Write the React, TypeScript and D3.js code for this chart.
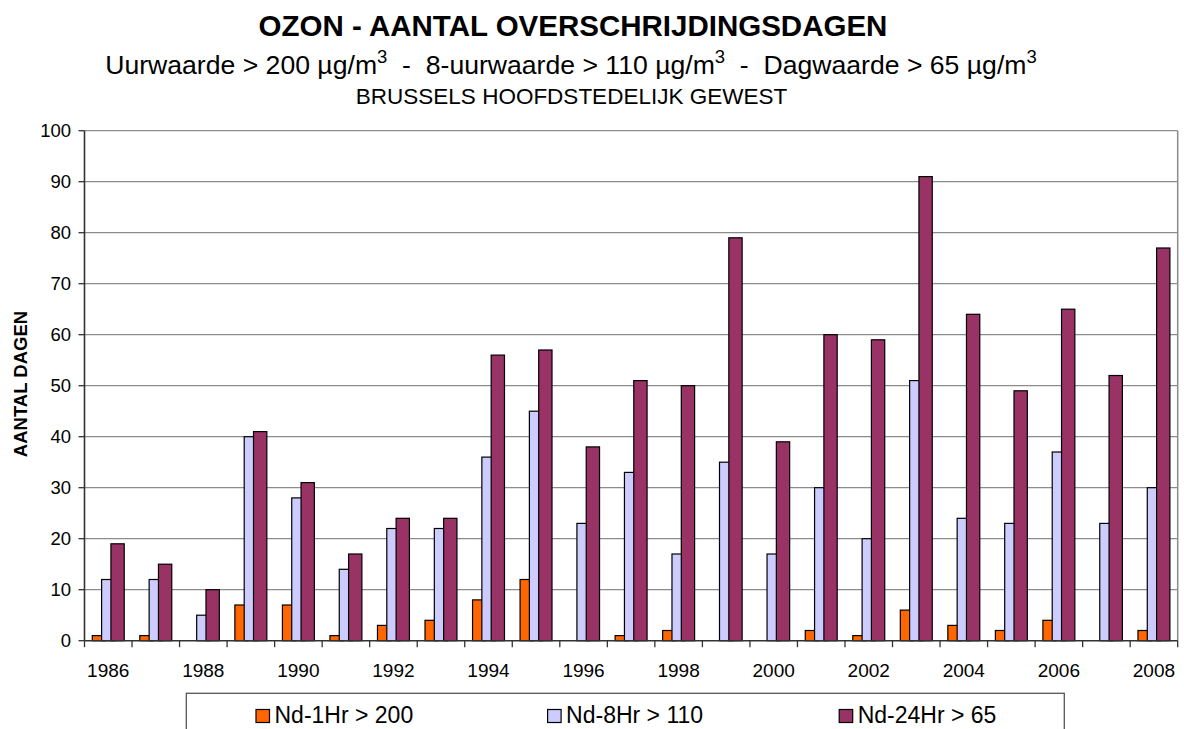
import React from "react";
import * as d3 from "d3";

const years = [1986,1987,1988,1989,1990,1991,1992,1993,1994,1995,1996,1997,1998,1999,2000,2001,2002,2003,2004,2005,2006,2007,2008];
const nd1Hr = [1,1,0,7,7,1,3,4,8,12,0,1,2,0,0,2,1,6,3,2,4,0,2];
const nd8Hr = [12,12,5,40,28,14,22,22,36,45,23,33,17,35,17,30,20,51,24,23,37,23,30];
const nd24Hr = [19,15,10,41,31,17,24,24,56,57,38,51,50,79,39,60,59,91,64,49,65,52,77];
const yTicks = [0,10,20,30,40,50,60,70,80,90,100];
const seriesNames = ["Nd-1Hr > 200", "Nd-8Hr > 110", "Nd-24Hr > 65"];
const seriesColors = ["#FF6600", "#CCCCFF", "#993366"];

const W = 1184, H = 729;
const FONT = "'Liberation Sans', Arial, Helvetica, sans-serif";
const left = 84.5, right = 1177.7, top = 130.7, bottom = 640.7;

export default function App() {
  const x = d3.scaleBand<number>().domain(years).range([left, right]).paddingInner(0).paddingOuter(0);
  const y = d3.scaleLinear().domain([0, 100]).range([bottom, top]);
  const bw = x.bandwidth();
  const barW = bw * 0.28;
  const step = bw * 0.196;
  const groupW = 2 * step + barW;
  const off = (bw - groupW) / 2;
  const series = [nd1Hr, nd8Hr, nd24Hr];

  return (
    <svg width={W} height={H} style={{ position: "absolute", left: 0, top: 0, background: "#fff" }} fontFamily={FONT}>
      <rect x={0} y={0} width={W} height={H} fill="#fff" />
      {/* titles */}
      <text x={573} y={36} textAnchor="middle" fontSize={29.5} fontWeight="bold" fill="#000">OZON - AANTAL OVERSCHRIJDINGSDAGEN</text>
      <text x={571} y={74} textAnchor="middle" fontSize={26.6} fill="#000">
        <tspan>Uurwaarde &gt; 200 µg/m</tspan>
        <tspan fontSize={18.5} dy={-11}>3</tspan>
        <tspan dy={11}>{"\u00A0 - \u00A08-uurwaarde > 110 µg/m"}</tspan>
        <tspan fontSize={18.5} dy={-11}>3</tspan>
        <tspan dy={11}>{"\u00A0 - \u00A0Dagwaarde > 65 µg/m"}</tspan>
        <tspan fontSize={18.5} dy={-11}>3</tspan>
      </text>
      <text x={571.5} y={104} textAnchor="middle" fontSize={22.5} fill="#000">BRUSSELS HOOFDSTEDELIJK GEWEST</text>

      {/* gridlines */}
      {yTicks.filter(t => t > 0).map(t => (
        <line key={"g" + t} x1={left} x2={right} y1={y(t)} y2={y(t)} stroke="#8c8c8c" strokeWidth={1.3} />
      ))}
      <line x1={right} x2={right} y1={top} y2={bottom} stroke="#8c8c8c" strokeWidth={1.5} />

      {/* bars */}
      {series.map((vals, si) => (
        <g key={"s" + si}>
          {vals.map((v, i) => v > 0 ? (
            <rect key={i}
              x={(x(years[i]) as number) + off + si * step}
              y={y(v)}
              width={barW}
              height={y(0) - y(v)}
              fill={seriesColors[si]}
              stroke="#000"
              strokeWidth={1.2}
            />
          ) : null)}
        </g>
      ))}

      {/* axes */}
      <line x1={left} x2={left} y1={top} y2={bottom} stroke="#333" strokeWidth={1.6} />
      <line x1={left} x2={right} y1={bottom} y2={bottom} stroke="#333" strokeWidth={1.6} />
      {yTicks.map(t => (
        <g key={"yt" + t}>
          <line x1={left - 6} x2={left} y1={y(t)} y2={y(t)} stroke="#333" strokeWidth={1.3} />
          <text x={71} y={y(t) + 6.6} textAnchor="end" fontSize={18.5} fill="#000">{t}</text>
        </g>
      ))}
      {years.map(yr => (
        <line key={"xt" + yr} x1={x(yr) as number} x2={x(yr) as number} y1={bottom} y2={bottom + 6.5} stroke="#333" strokeWidth={1.3} />
      ))}
      <line x1={right} x2={right} y1={bottom} y2={bottom + 6.5} stroke="#333" strokeWidth={1.3} />
      {years.filter((yr, i) => i % 2 === 0).map(yr => (
        <text key={"xl" + yr} x={(x(yr) as number) + bw / 2} y={677} textAnchor="middle" fontSize={19} fill="#000">{yr}</text>
      ))}

      <text transform={`translate(27,384) rotate(-90)`} textAnchor="middle" fontSize={18.5} fontWeight="bold" fill="#000">AANTAL DAGEN</text>

      {/* legend */}
      <rect x={186.3} y={693.3} width={878} height={60} fill="#fff" stroke="#555" strokeWidth={1.3} />
      {seriesNames.map((n, i) => {
        const mx = 256 + i * 291.6;
        return (
          <g key={"l" + i}>
            <rect x={mx} y={709.5} width={13.5} height={13} fill={seriesColors[i]} stroke="#000" strokeWidth={1.2} />
            <text x={mx + 18.5} y={722.5} fontSize={23} fill="#000">{n}</text>
          </g>
        );
      })}
    </svg>
  );
}
